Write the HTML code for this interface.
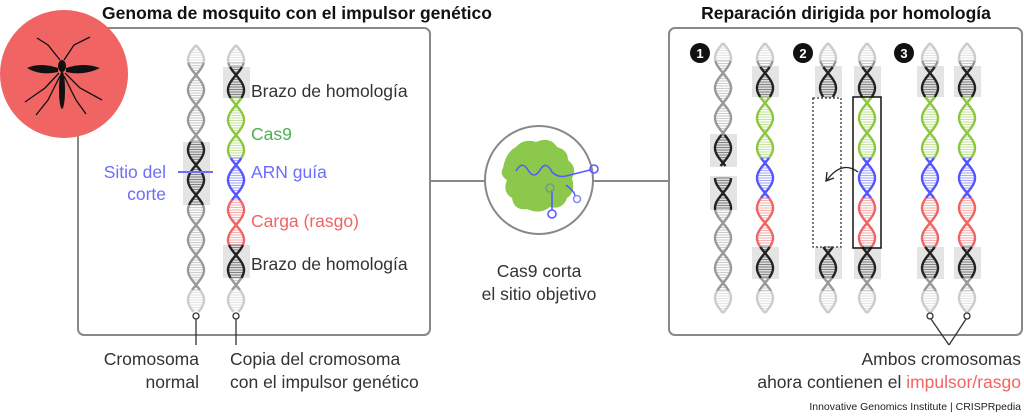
<!DOCTYPE html>
<html><head><meta charset="utf-8"><style>
body{margin:0;background:#fff;}
svg{display:block;font-family:"Liberation Sans",sans-serif;}
</style></head><body>
<svg id="s" width="1024" height="416" viewBox="0 0 1024 416" xmlns="http://www.w3.org/2000/svg">
<text x="297" y="19" text-anchor="middle" font-size="17.5" font-weight="bold" fill="#111">Genoma de mosquito con el impulsor genético</text>
<text x="846" y="19" text-anchor="middle" font-size="17.5" font-weight="bold" fill="#111">Reparación dirigida por homología</text>
<rect x="78" y="28" width="352" height="307" rx="6" fill="none" stroke="#888" stroke-width="2"/>
<rect x="669" y="28" width="353" height="307" rx="6" fill="none" stroke="#888" stroke-width="2"/>
<line x1="430" y1="181" x2="485" y2="181" stroke="#888" stroke-width="2"/>
<line x1="593" y1="181" x2="669" y2="181" stroke="#888" stroke-width="2"/>
<circle cx="539" cy="180" r="54" fill="#fff" stroke="#888" stroke-width="2"/>
<!-- mosquito -->
<circle cx="64" cy="74" r="64" fill="#f06464"/>
<g fill="#111" stroke="#111">
<ellipse cx="62" cy="90" rx="3" ry="19" stroke="none"/>
<ellipse cx="62" cy="66" rx="4" ry="6" stroke="none"/>
<path d="M58 68 Q40 62 27 68 Q40 76 58 72Z" stroke="none"/>
<path d="M66 68 Q84 62 100 68 Q84 76 66 72Z" stroke="none"/>
<g fill="none" stroke-width="1.3">
<path d="M60 60 L48 45 L37 38"/><path d="M64 60 L74 45 L90 37"/>
<path d="M59 73 L45 88 L25 102"/><path d="M65 73 L80 88 L102 100"/>
<path d="M60 76 L48 100 L36 115"/><path d="M64 76 L76 100 L86 114"/>
</g></g>
<g id="dna"></g>
<line x1="178" y1="172" x2="213" y2="172" stroke="#6c6cff" stroke-width="2"/>
<g font-size="17.5" fill="#333">
<text x="251" y="97">Brazo de homología</text>
<text x="251" y="140" fill="#4cb050">Cas9</text>
<text x="251" y="178" fill="#6c6cff">ARN guía</text>
<text x="251" y="227" fill="#f06464">Carga (rasgo)</text>
<text x="251" y="270">Brazo de homología</text>
<text x="166" y="178" text-anchor="end" fill="#6c6cff">Sitio del</text>
<text x="166" y="200" text-anchor="end" fill="#6c6cff">corte</text>
<text x="199" y="365" text-anchor="end">Cromosoma</text>
<text x="199" y="388" text-anchor="end">normal</text>
<text x="230" y="365">Copia del cromosoma</text>
<text x="230" y="388">con el impulsor genético</text>
<text x="539" y="277" text-anchor="middle">Cas9 corta</text>
<text x="539" y="300" text-anchor="middle">el sitio objetivo</text>
<text x="1021" y="365" text-anchor="end">Ambos cromosomas</text>
<text x="1021" y="388" text-anchor="end">ahora contienen el <tspan fill="#f06464">impulsor/rasgo</tspan></text>
</g>
<text x="1021" y="410" text-anchor="end" font-size="10.5" fill="#222">Innovative Genomics Institute | CRISPRpedia</text>
<g stroke="#333" stroke-width="1.3" fill="#fff">
<line x1="196" y1="319" x2="196" y2="345"/><circle cx="196" cy="316" r="3"/>
<line x1="236" y1="319" x2="236" y2="345"/><circle cx="236" cy="316" r="3"/>
<line x1="931" y1="319" x2="949" y2="345"/><circle cx="930" cy="316" r="3"/>
<line x1="966" y1="319" x2="949" y2="345"/><circle cx="967" cy="316" r="3"/>
</g>
<g font-size="13" font-weight="bold" text-anchor="middle" fill="#fff">
<circle cx="700" cy="53" r="10" fill="#111"/><text x="700" y="58">1</text>
<circle cx="803" cy="53" r="10" fill="#111"/><text x="803" y="58">2</text>
<circle cx="904" cy="53" r="10" fill="#111"/><text x="904" y="58">3</text>
</g>
<rect x="813" y="98" width="28" height="149" fill="none" stroke="#333" stroke-width="1.3" stroke-dasharray="2,2"/>
<rect x="853" y="97" width="28" height="151" fill="none" stroke="#111" stroke-width="1.5"/>
<path d="M858 172 Q842 160 827 180" fill="none" stroke="#222" stroke-width="1.3"/>
<path d="M827 172 L826 181 L834 178" fill="none" stroke="#222" stroke-width="1.3"/>
<!-- cas9 -->
<path d="M503 168 Q506 152 516 147 Q524 138 536 142 Q550 136 557 147 Q568 150 568 160 Q578 168 572 178 Q576 192 567 198 Q563 210 550 207 Q540 215 527 209 Q514 211 512 198 Q502 192 507 180 Q499 175 503 168Z" fill="#8cc84b"/>
<g fill="none" stroke="#5a5aff" stroke-width="1.6">
<path d="M516 171 Q522 160 528 170 Q534 180 540 170 Q546 160 552 172 Q558 178 566 176 L590 170"/>
<circle cx="594" cy="169" r="4"/>
<path d="M566 185 Q575 192 575 196"/><circle cx="577" cy="199" r="3.5" stroke="#8a8aff"/>
<path d="M552 190 L552 210"/><circle cx="552" cy="214" r="4"/>
<circle cx="550" cy="188" r="4" stroke="#7a9a80"/>
</g>
</svg>
<script>
const NS="http://www.w3.org/2000/svg",g=document.getElementById('dna');
const GR='#999',BK='#222',GN='#8cc63f',BL='#5555ff',RD='#f06464',LG='#ccc';
function box(x,y1,y2){const r=document.createElementNS(NS,'rect');r.setAttribute('x',x-13);r.setAttribute('y',y1);r.setAttribute('width',27);r.setAttribute('height',y2-y1);r.setAttribute('fill','#e4e4e4');g.appendChild(r);}
function seg(cx,y1,y2,c,y0){const P=60,A=8;let a='',b='';
 for(let y=y1;y<=y2;y+=1){const s=Math.sin(2*Math.PI*(y-y0)/P)*A;a+=(cx+s)+','+y+' ';b+=(cx-s)+','+y+' ';}
 for(let y=Math.ceil(y1);y<=y2;y+=2.5){const s=Math.sin(2*Math.PI*(y-y0)/P)*A;if(Math.abs(s)<1.5)continue;const l=document.createElementNS(NS,'line');l.setAttribute('x1',cx-Math.abs(s)+1);l.setAttribute('x2',cx+Math.abs(s)-1);l.setAttribute('y1',y);l.setAttribute('y2',y);l.setAttribute('stroke',c);l.setAttribute('stroke-opacity','0.5');l.setAttribute('stroke-width','1.1');g.appendChild(l);}
 [a,b].forEach(p=>{const pl=document.createElementNS(NS,'polyline');pl.setAttribute('points',p);pl.setAttribute('fill','none');pl.setAttribute('stroke',c);pl.setAttribute('stroke-width','2.4');g.appendChild(pl);});}
function chrom(cx,top,bot,segs,boxes){(boxes||[]).forEach(b=>box(cx,b[0],b[1]));
 const y0=top;seg(cx,top,top+18,LG,y0);
 segs.forEach(s=>{if(s[2])seg(cx,s[0],s[1],s[2],y0);});
 seg(cx,bot-22,bot,LG,y0);}
chrom(196,45,312,[[63,142,GR],[142,205,BK],[205,290,GR]],[[142,205]]);
chrom(236,45,312,[[63,67,GR],[67,98,BK],[98,158,GN],[158,200,BL],[200,245,RD],[245,278,BK],[278,290,GR]],[[67,98],[245,278]]);
const full=[[61,67,GR],[67,97,BK],[97,158,GN],[158,198,BL],[198,247,RD],[247,278,BK],[278,291,GR]];
chrom(723,43,313,[[61,135,GR],[135,166,BK],[178,210,BK],[210,291,GR]],[[134,167],[176,210]]);
chrom(765,43,313,full,[[66,97],[247,279]]);
chrom(828,43,313,[[61,67,GR],[67,97,BK],[247,278,BK],[278,291,GR]],[[66,97],[247,279]]);
chrom(867,43,313,full,[[66,97],[247,279]]);
chrom(930,43,313,full,[[66,97],[247,279]]);
chrom(967,43,313,full,[[66,97],[247,279]]);
</script>
</body></html>
